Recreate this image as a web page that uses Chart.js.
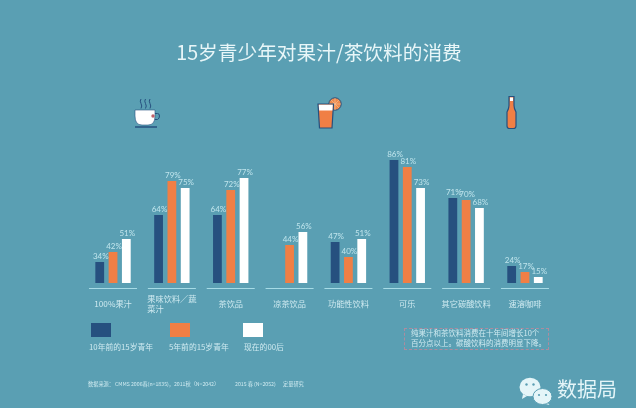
<!DOCTYPE html>
<html lang="zh">
<head>
<meta charset="utf-8">
<title>15岁青少年对果汁/茶饮料的消费</title>
<script src="https://cdn.jsdelivr.net/npm/chart.js@4"></script>
<style>
html, body { margin: 0; padding: 0; background: #5a9fb3; }
#page { position: relative; width: 636px; height: 408px; overflow: hidden; background: #5a9fb3;
  font-family: "Noto Sans CJK SC", sans-serif; color: #cfeaf0; }
#page canvas, #art { position: absolute; left: 0; top: 0; }
.txt { position: absolute; white-space: pre; line-height: 1; }
.swatch { position: absolute; top: 323px; width: 20px; height: 14px; }
.small { top: 381px; font-size: 5.2px; }
#noteBox { position: absolute; left: 404px; top: 328px; width: 143px; height: 20px; border: 1px dashed #ad8c9f; }
#note { position: absolute; left: 411px; top: 327.5px; font-size: 7.5px; line-height: 10.4px; white-space: pre; }
</style>
</head>
<body>
<div id="page">
  <canvas id="chart" width="636" height="408"></canvas>
  <svg id="art" width="636" height="408" viewBox="0 0 636 408">
    <!-- tea cup -->
    <g fill="none" stroke="#26507f" stroke-width="1">
      <path d="M141 99q-1.5 2 0 4.5t0 5M145.5 99q-1.5 2 0 4.5t0 5M150 99q-1.5 2 0 4.5t0 5"/>
      <path d="M155 113.5h2.5q2 0 2 2.5t-2 3.5h-3.5"/>
    </g>
    <path d="M135 110h20v6q0 9-7 9h-6q-7 0-7-9z" fill="#fff" stroke="#26507f" stroke-width=".6"/>
    <circle cx="153" cy="116" r="1.7" fill="#c0616a"/>
    <path d="M135 127h22" stroke="#26507f" stroke-width="1.5"/>
    <!-- juice glass -->
    <circle cx="335" cy="104" r="6.2" fill="#ef8a4c" stroke="#26507f" stroke-width="1"/>
    <path d="M335 98v12M329 104h12M331 100l8 8M339 100l-8 8" stroke="#f6c39e" stroke-width=".6"/>
    <path d="M318 104h15.5l-1.5 24h-12.5z" fill="#f07f45" stroke="#26507f" stroke-width="1.2"/>
    <path d="M318.8 104.8h14l-.4 5.8h-13.2z" fill="#fff"/>
    <!-- bottle -->
    <path d="M509 96.5h5v9q0 3 2 6.5v14q0 2.5-2.5 2.5h-4q-2.5 0-2.5-2.5v-14q2-3.5 2-6.5z"
      fill="#f07f45" stroke="#26507f" stroke-width="1.2"/>
    <rect x="510" y="97.5" width="3" height="3.5" fill="#fff"/>
    <!-- wechat logo -->
    <path d="M523 394l-1 5 5-3z" fill="#e4f5f8"/>
    <ellipse cx="530" cy="387" rx="10.5" ry="9.2" fill="#e4f5f8"/>
    <circle cx="526.5" cy="384.5" r="1.2" fill="#5a9fb3"/>
    <circle cx="533.5" cy="384.5" r="1.2" fill="#5a9fb3"/>
    <path d="M547 402l2.5 3-6-1.5z" fill="#e4f5f8"/>
    <ellipse cx="542.5" cy="396.5" rx="9.5" ry="8" fill="#e4f5f8" stroke="#5a9fb3" stroke-width="1"/>
    <circle cx="539" cy="395" r="1.1" fill="#5a9fb3"/>
    <circle cx="546" cy="395" r="1.1" fill="#5a9fb3"/>
  </svg>
  <div id="legend"></div>
  <div id="noteBox"></div>
  <div id="note">纯果汁和茶饮料消费在十年间增长10个
百分点以上。碳酸饮料的消费明显下降。</div>
  <div class="txt small" style="left:88px;">数据来源：</div>
  <div class="txt small" style="left:115px;">CMMS 2006春(n=1835)，2011秋（N=2042）</div>
  <div class="txt small" style="left:235px;">2015 春 (N=2052)</div>
  <div class="txt small" style="left:283px;">定量研究</div>
  <div class="txt" style="left:557px;top:379px;font-size:20px;color:#e4f5f8;">数据局</div>
</div>

<script>
var titleText = '15岁青少年对果汁/茶饮料的消费';

var categories = ['100%果汁', ['果味饮料／蔬', '菜汁　　　　'], '茶饮品', '凉茶饮品', '功能性饮料', '可乐', '其它碳酸饮料', '速溶咖啡'];
var seriesNames = ['10年前的15岁青年', '5年前的15岁青年', '现在的00后'];

// percentages as printed above the bars
var printedOld = [34, 64, 64, null, 47, 86, 71, 24];
var printedMid = [42, 79, 72, 44, 40, 81, 70, 17];
var printedNow = [51, 75, 77, 56, 51, 73, 68, 15];

// bar lengths, the original does not draw them in proportion to the printed numbers
var drawnOld = [14.7, 47.6, 47.6, null, 28.7, 86, 59.5, 11.9];
var drawnMid = [21.7, 71.4, 65.1, 26.6, 18.2, 81.2, 58.1, 7.7];
var drawnNow = [30.8, 66.5, 73.5, 35.7, 30.8, 66.5, 52.5, 4.2];

var colors = ['#26507f', '#f07f45', '#ffffff'];
var printed = [printedOld, printedMid, printedNow];

// percent label above each bar
var barLabels = {
    id: 'barLabels',
    afterDatasetsDraw: function(chart){
        var ctx = chart.ctx;
        ctx.save();
        ctx.font = '8px Lato';
        ctx.fillStyle = '#bfe4ec';
        ctx.textAlign = 'center';
        ctx.textBaseline = 'bottom';
        printed.forEach(function(values, i){
            chart.getDatasetMeta(i).data.forEach(function(bar, j){
                if (values[j] === null) return;
                ctx.fillText(values[j] + '%', bar.x + 1, bar.y - 1.5);
            });
        });
        ctx.restore();
    }
};

// short rule under each group of bars
var groupRules = {
    id: 'groupRules',
    afterDraw: function(chart){
        var ctx = chart.ctx;
        var xScale = chart.scales.x;
        ctx.save();
        ctx.strokeStyle = '#a6dbe6';
        ctx.lineWidth = 1.2;
        categories.forEach(function(name, i){
            var x = xScale.getPixelForTick(i);
            ctx.beginPath();
            ctx.moveTo(x - 24, 288.5);
            ctx.lineTo(x + 24, 288.5);
            ctx.stroke();
        });
        ctx.restore();
    }
};

new Chart(document.getElementById('chart'), {
    type: 'bar',
    plugins: [barLabels, groupRules],
    data: {
        labels: categories,
        datasets: [
            { label: seriesNames[0], data: drawnOld, backgroundColor: colors[0] },
            { label: seriesNames[1], data: drawnMid, backgroundColor: colors[1] },
            { label: seriesNames[2], data: drawnNow, backgroundColor: colors[2] }
        ]
    },
    options: {
        responsive: false,
        animation: false,
        categoryPercentage: 0.678,
        barPercentage: 0.66,
        layout: { padding: { left: 83.6, right: 81.6, top: 0, bottom: 0 } },
        plugins: {
            legend: { display: false },
            tooltip: { enabled: false },
            title: {
                display: true,
                text: titleText,
                color: '#e8f6f8',
                font: { family: '"Noto Sans CJK SC"', size: 19.7, weight: 'normal' },
                padding: { top: 40.7, bottom: 75.66 }
            }
        },
        scales: {
            x: {
                grid: { display: false },
                border: { display: false },
                afterFit: function(scale){ scale.height = 125; },
                ticks: {
                    autoSkip: false,
                    maxRotation: 0,
                    crossAlign: 'center',
                    padding: 8,
                    color: '#cfeaf0',
                    font: { family: '"Noto Sans CJK SC"', size: 8.2 }
                }
            },
            y: { display: false, min: 0, max: 100 }
        }
    }
});

// legend sits as swatch above text, so it is built by hand
var legendBox = document.getElementById('legend');
var swatchLeft = [91, 170, 243];
var textLeft = [89, 169, 244];
seriesNames.forEach(function(name, i){
    var swatch = document.createElement('div');
    swatch.className = 'swatch';
    swatch.style.left = swatchLeft[i] + 'px';
    swatch.style.background = colors[i];
    legendBox.appendChild(swatch);
    var text = document.createElement('div');
    text.className = 'txt';
    text.style.cssText = 'left:' + textLeft[i] + 'px;top:343px;font-size:7.8px;';
    text.textContent = name;
    legendBox.appendChild(text);
});
</script>
</body>
</html>
